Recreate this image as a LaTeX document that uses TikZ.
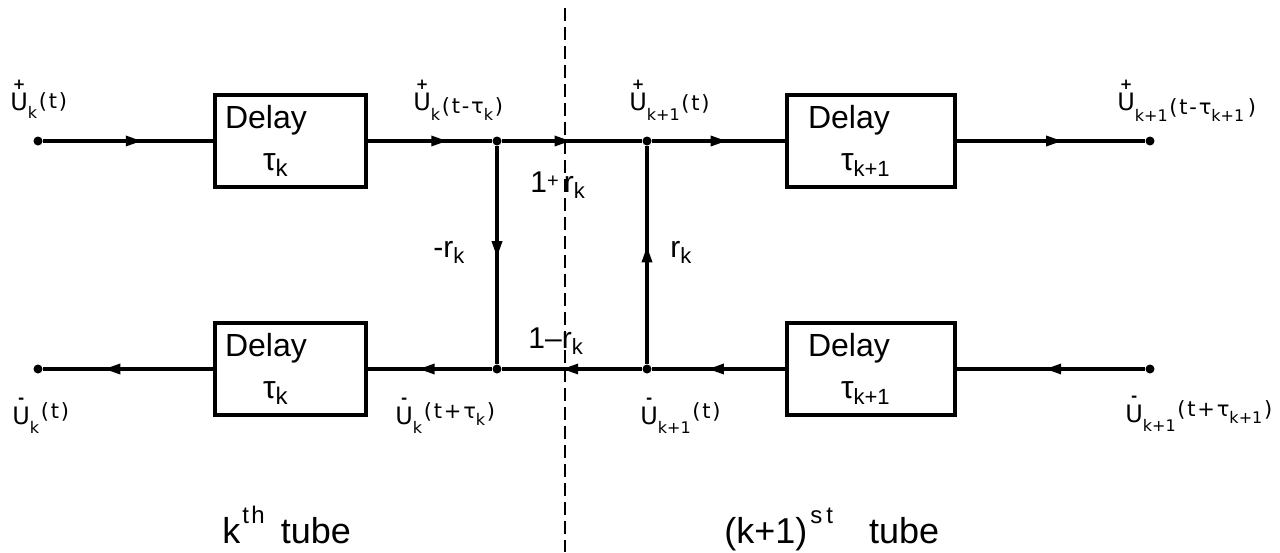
\documentclass[tikz,border=0pt]{standalone}
\usepackage{fontspec}
\setmainfont{Liberation Sans}
\newfontfamily\lblfont{DejaVu Sans}
\usetikzlibrary{arrows.meta,decorations.markings}

\newcommand\Usym[1]{\leavevmode\vbox{\offinterlineskip\halign{\hfil##\hfil\cr{\fontsize{7.5}{7.5}\selectfont\bfseries#1}\cr\noalign{\kern1.6pt}{\fontsize{12}{12}\selectfont U}\cr}}}
\newcommand\lowr[3]{\raisebox{-#1}{\fontsize{#2}{#2}\selectfont #3}}
\newcommand\gp{\kern0.9pt}
% \ulab{sign}{subscript}{sub lowering}{arg raise}{argument}
\newcommand\ulab[5]{{\lblfont\fontsize{10.5}{10.5}\selectfont\Usym{#1}\lowr{#3}{8pt}{#2}\kern0.8pt\raisebox{#4}{#5}}}

\tikzset{
  wire/.style={line width=1.6pt},
  dbox/.style={draw, line width=1.6pt, minimum height=46pt, inner sep=0pt,
               align=left, font=\fontsize{16}{21}\selectfont},
  jdot/.style={circle, fill, inner sep=0pt, minimum size=4.5pt},
  midarrow/.style={postaction={decorate}, decoration={markings,
      mark=at position #1 with {\arrow{Triangle[length=8pt,width=5pt]}}}},
  lab/.style={anchor=base west, inner sep=0pt},
  glab/.style={anchor=base west, inner sep=0pt, font=\fontsize{15}{15}\selectfont},
  tlab/.style={anchor=base west, inner sep=0pt, font=\fontsize{18}{18}\selectfont},
}

\begin{document}
\begin{tikzpicture}[x=0.5pt, y=-0.5pt]
\fill[white] (0,0) rectangle (1280,552);
\useasboundingbox (0,0) rectangle (1280,552);

% terminals and junctions
\node[jdot] (in1) at (38,141) {};
\node[jdot] (J1) at (497,141) {};
\node[jdot] (J2) at (647,141) {};
\node[jdot] (out1) at (1150,141) {};
\node[jdot] (out2) at (38,369) {};
\node[jdot] (J3) at (497,369) {};
\node[jdot] (J4) at (647,369) {};
\node[jdot] (in2) at (1150,369) {};

% delay boxes
\node[dbox, text width=75.5pt] (b1) at (290.5,141)
  {\hspace*{5pt}Delay\\\hspace*{24pt}τ\lowr{3pt}{12pt}{k}};
\node[dbox, text width=84pt] (b2) at (871,141)
  {\hspace*{10.5pt}Delay\\\hspace*{27pt}τ\lowr{3pt}{11pt}{k+1}};
\node[dbox, text width=75.5pt] (b3) at (290.5,369)
  {\hspace*{5pt}Delay\\\hspace*{24pt}τ\lowr{3pt}{12pt}{k}};
\node[dbox, text width=84pt] (b4) at (871,369)
  {\hspace*{10.5pt}Delay\\\hspace*{27pt}τ\lowr{3pt}{11pt}{k+1}};

% forward (upper) path
\draw[wire, midarrow=0.58] (in1) -- (b1.west);
\draw[wire, midarrow=0.64] (b1.east) -- (J1);
\draw[wire, midarrow=0.49] (J1) -- (J2);
\draw[wire, midarrow=0.56] (J2) -- (b2.west);
\draw[wire, midarrow=0.56] (b2.east) -- (out1);

% backward (lower) path
\draw[wire, midarrow=0.53] (in2) -- (b4.east);
\draw[wire, midarrow=0.58] (b4.west) -- (J4);
\draw[wire, midarrow=0.57] (J4) -- (J3);
\draw[wire, midarrow=0.59] (J3) -- (b3.east);
\draw[wire, midarrow=0.64] (b3.west) -- (out2);

% scattering branches
\draw[wire, midarrow=0.51] (J1) -- (J3);
\draw[wire, midarrow=0.54] (J4) -- (J2);

% boundary between tubes
\coordinate (dtop) at (565,8);
\coordinate (dbot) at (565,552);
\draw[line width=1pt, dash pattern=on 6.5pt off 3pt] (dtop) -- (dbot);

% signal labels
\node[lab] (l1) at (10,110) {\ulab{+}{k}{4pt}{1pt}{(\gp t\gp)}};
\node[lab] (l2) at (413,110) {\ulab{+}{k}{5pt}{-1.5pt}{(\gp t\gp-\gp τ\lowr{3.5pt}{8pt}{k}\gp)}};
\node[lab] (l3) at (629,110) {\ulab{+}{k+1}{5pt}{0pt}{(\gp t\gp)}};
\node[lab] (l4) at (1117,110) {\ulab{+}{k+1}{5.5pt}{-2pt}{(\gp t\gp-\gp τ\lowr{3.5pt}{8pt}{k+1}\gp\gp)}};
\node[lab] (l5) at (12,424) {\ulab{-}{k}{4.5pt}{3pt}{(\gp t\gp)}};
\node[lab] (l6) at (395,424) {\ulab{-}{k}{4.5pt}{3pt}{(\gp t\gp+\gp τ\lowr{3.5pt}{8pt}{k}\gp)}};
\node[lab] (l7) at (640,424) {\ulab{-}{k+1}{4.5pt}{3pt}{(\gp t\gp)}};
\node[lab] (l8) at (1125,422) {\ulab{-}{k+1}{4.5pt}{3pt}{(\gp t\gp+\gp τ\lowr{3.5pt}{8pt}{k+1}\gp)}};

% gains
\node[glab] (g1) at (530,192) {1\raisebox{2.5pt}{\fontsize{10}{10}\selectfont +}\,r\lowr{3pt}{11pt}{k}};
\node[glab] (g2) at (433,257) {-r\lowr{3pt}{11pt}{k}};
\node[glab] (g3) at (670,257) {r\lowr{3pt}{11pt}{k}};
\node[glab] (g4) at (528,348) {1–r\lowr{3pt}{11pt}{k}};

% tube labels
\node[tlab] (t1) at (222,543) {k\kern1pt\raisebox{10pt}{\fontsize{12}{12}\selectfont t\kern1.2pt h}\hspace{8pt}tube};
\node[tlab] (t2) at (724,543) {(k+1)\kern1.5pt\raisebox{10pt}{\fontsize{12}{12}\selectfont s\kern2pt t}\hspace{18pt}tube};
\end{tikzpicture}
\end{document}
